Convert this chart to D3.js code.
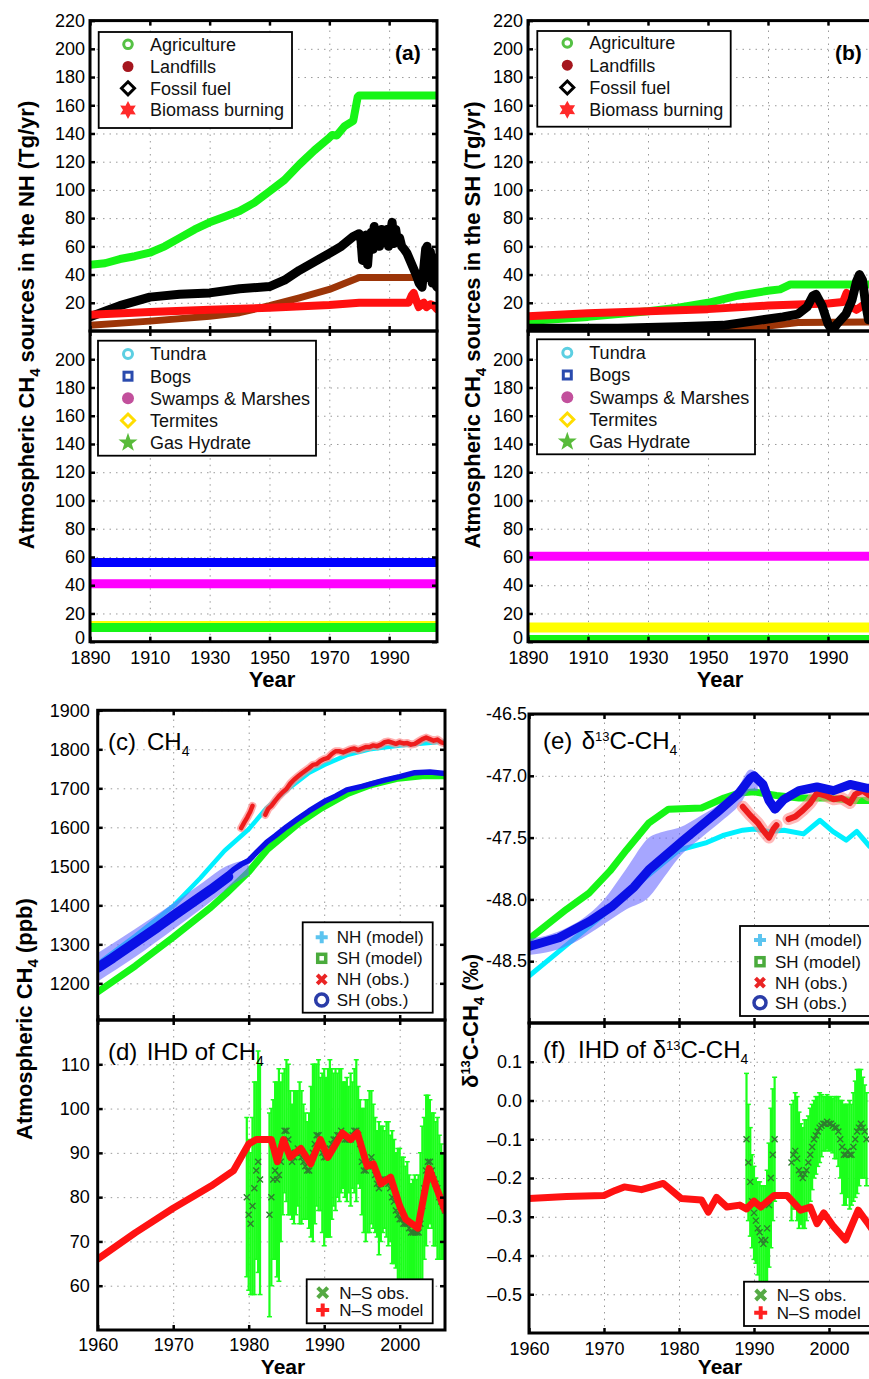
<!DOCTYPE html>
<html>
<head>
<meta charset="utf-8">
<script src="https://cdnjs.cloudflare.com/ajax/libs/d3/7.8.5/d3.min.js"></script>
<style>
  body { margin: 0; background: #fff; }
  svg { display: block; font-family: "Liberation Sans", Arial, Helvetica, sans-serif; }
  .grid line { stroke: #9a9a9a; stroke-width: 1; stroke-dasharray: 1.5, 5; }
  .axis line { stroke: #000; stroke-width: 2.5; }
  .axis text { fill: #000; }
  .series { fill: none; stroke-linejoin: round; stroke-linecap: round; }
</style>
</head>
<body>
<div id="chart"></div>
<script>
// ---------- data ----------
var srcYearTicks = [1890, 1910, 1930, 1950, 1970, 1990];
var srcTopTicks = [20, 40, 60, 80, 100, 120, 140, 160, 180, 200, 220];
var srcBottomTicks = [0, 20, 40, 60, 80, 100, 120, 140, 160, 180, 200];
var ihdYearTicks = [1960, 1970, 1980, 1990, 2000];
var ch4Ticks = [1200, 1300, 1400, 1500, 1600, 1700, 1800, 1900];
var ihdCh4Ticks = [60, 70, 80, 90, 100, 110];
var d13Ticks = [-48.5, -48, -47.5, -47, -46.5];
var ihdD13Ticks = [-0.5, -0.4, -0.3, -0.2, -0.1, 0, 0.1];

// (a) NH anthropogenic sources, Tg/yr
var nhAgriculture = [[1890,47],[1895,48],[1900,51],[1905,53],[1910,55.5],[1915,60],[1920,66],[1925,72],[1930,77],[1935,81],[1940,85],[1945,91],[1950,99],[1955,107],[1960,118],[1965,128],[1970,137],[1971,139],[1972.5,138.5],[1975,145],[1978,149],[1979.5,166],[1980,167],[2006,167]];
var nhLandfills = [[1890,4],[1910,7],[1930,10.5],[1940,13],[1950,18],[1960,23.5],[1970,29.5],[1980,38],[2006,38]];
var nhFossil = [[1890,10],[1895,14],[1900,18],[1905,21],[1910,24],[1920,26],[1930,27],[1940,30],[1950,31.5],[1955,36],[1960,43],[1965,49],[1970,55],[1974,60],[1978,67],[1980,69],[1980.6,64],[1981.1,50],[1981.6,66],[1982.2,68],[1982.8,47],[1983.4,64],[1984,70],[1984.6,58],[1985,74],[1985.6,63],[1986.2,70],[1986.8,60],[1987.4,72],[1988,64],[1988.6,70],[1989.3,72],[1989.8,60],[1990.5,70],[1991,77],[1991.6,62],[1992.2,72],[1992.8,63],[1993.5,66],[1994.2,60],[1995,58],[1996,55],[1997,50],[1998,45],[1999,40],[2000,34],[2001,31],[2001.6,45],[2002.2,58],[2002.7,60],[2003.2,38],[2003.8,56],[2004.4,34],[2005,52],[2005.5,33],[2006,31]];
var nhBiomass = [[1890,11.5],[1910,13.5],[1930,15],[1950,16.5],[1970,18.5],[1980,20],[1996.5,20],[1997.5,25],[1998.2,27],[1999,22],[1999.9,17],[2000.8,19],[2001.6,20],[2002.5,17],[2003.8,19],[2005,18],[2006,15.5]];
// (a) NH natural sources
var nhTundra = [[1890,10],[2006,10]];
var nhBogs = [[1890,56],[2006,56]];
var nhSwamps = [[1890,41],[2006,41]];
var nhTermites = [[1890,11.5],[2006,11.5]];
var nhHydrate = [[1890,10],[2006,10]];

// (b) SH anthropogenic sources
var shAgriculture = [[1890,7],[1910,10],[1930,14],[1940,16.5],[1950,20],[1960,25],[1970,28.5],[1974,29.5],[1977.5,33],[2006,33]];
var shLandfills = [[1890,0.5],[1950,1],[1960,2],[1970,3.5],[1980,6],[2006,6.5]];
var shFossil = [[1890,2],[1920,2],[1940,3],[1955,4],[1965,7],[1975,10],[1980,12],[1983,17],[1985,25],[1986,26],[1988,18],[1990,5],[1991.5,0],[1993,5],[1996,12],[1998,22],[1999.5,35],[2000.5,40],[2001.5,36],[2002.5,20],[2003.5,8],[2004.5,20],[2006,15]];
var shBiomass = [[1890,10.5],[1910,12.5],[1930,14],[1950,15.5],[1970,18],[1990,19.5],[1995,20.5],[1996.2,27],[1997,24],[1997.9,17],[1999.5,15],[2001.8,18.5],[2003,20],[2006,19]];
// (b) SH natural sources
var shTundra = [[1890,0],[2006,0]];
var shBogs = [[1890,0],[2006,0]];
var shSwamps = [[1890,60.5],[2006,60.5]];
var shTermites = [[1890,10],[2006,10]];
var shHydrate = [[1890,1.5],[2006,1.5]];

// (c) CH4 mixing ratio, ppb
var nhModelCh4 = [[1960,1250],[1965,1322],[1970,1398],[1973.6,1470],[1976.8,1540],[1980,1595],[1982.4,1650],[1985,1695],[1988,1740],[1990,1760],[1993,1785],[1996,1800],[2000,1810],[2003,1815],[2006,1820]];
var shModelCh4 = [[1960,1178],[1965,1245],[1970,1318],[1975,1395],[1977,1430],[1980,1486],[1982.4,1542],[1986.6,1610],[1989.6,1649],[1993.1,1687],[1996,1708],[1999.8,1726],[2003,1732],[2006,1732]];
var nhObsCh4 = [[1979,1598],[1979.4,1612],[1979.8,1625],[1980.2,1640],[1980.5,1655],[1981.3,null],[1982.2,1632],[1982.6,1648],[1983,1655],[1983.5,1668],[1984,1680],[1984.5,1690],[1985,1698],[1985.5,1712],[1986,1722],[1986.5,1730],[1987,1738],[1987.5,1745],[1988,1752],[1988.5,1760],[1989,1762],[1989.5,1770],[1990,1775],[1990.5,1778],[1991,1788],[1991.5,1795],[1992,1795],[1992.5,1792],[1993,1796],[1993.5,1800],[1994,1802],[1994.5,1798],[1995,1802],[1995.5,1806],[1996,1806],[1996.5,1810],[1997,1808],[1997.5,1812],[1998,1818],[1998.5,1820],[1999,1817],[1999.5,1814],[2000,1818],[2000.5,1815],[2001,1816],[2001.5,1812],[2002,1814],[2002.5,1820],[2003,1826],[2003.5,1830],[2004,1826],[2004.5,1822],[2005,1825],[2005.5,1818],[2006,1815]];
var shObsCh4Ice = [[1960,1240],[1962,1265],[1965,1305],[1968,1345],[1970,1373],[1972,1400],[1975,1440],[1977.3,1473]];
var shObsCh4 = [[1977.3,1480],[1978,1492],[1979,1505],[1980,1515],[1981,1535],[1982.4,1562],[1983.5,1578],[1985,1601],[1986.5,1622],[1988,1642],[1990,1666],[1991.5,1680],[1993,1696],[1995,1705],[1998,1721],[2000,1730],[2002,1740],[2004,1742],[2006,1738]];
// [year, low, high]
var shObsCh4Band = [[1960,1205,1278],[1965,1268,1340],[1970,1338,1405],[1974,1395,1460],[1977,1440,1500],[1978,1455,1508],[1980,1478,1518]];

// (d) interhemispheric difference of CH4, ppb
var ihdCh4Model = [[1960,66],[1965,72],[1970,77.5],[1975,82.5],[1978,86],[1979,89],[1980,92],[1981,93],[1983,93],[1983.8,88],[1984.6,93],[1985.5,89],[1986.9,91],[1988.2,87.5],[1989.5,93],[1990.5,89],[1992.4,94.5],[1993.5,93],[1994.4,94.5],[1995.7,87],[1996.5,87.5],[1997.5,83],[1998.8,84.5],[2000,78],[2000.8,75],[2002.4,73],[2003.9,86.5],[2006,77]];
// [year, mean, error]
var ihdCh4Obs = [[1979.75,80,18],[1980,76,17],[1980.25,74,16],[1980.5,78,20],[1980.75,82,24],[1981,86,20],[1981.25,88,25],[1981.5,84,26],
  [1982.75,76,23],[1983,80,20],[1983.25,84,18],[1983.5,86,20],[1983.75,84,22],[1984,85,24],[1984.25,88,18],[1984.5,92,16],[1984.75,95,14],
  [1985,95,16],[1985.25,93,17],[1985.5,90,14],[1985.75,88,13],[1986,89,15],[1986.25,90,14],[1986.5,91,13],[1986.75,90,16],
  [1987,89,15],[1987.25,88,13],[1987.5,87,12],[1987.75,86,11],[1988,86,13],[1988.25,88,17],[1988.5,90,20],[1988.75,92,18],
  [1989,94,16],[1989.25,94,17],[1989.5,92,15],[1989.75,90,18],[1990,89,20],[1990.25,89,18],[1990.5,90,19],[1990.75,91,20],
  [1991,92,17],[1991.25,93,15],[1991.5,93,16],[1991.75,94,14],[1992,94,15],[1992.25,95,14],[1992.5,94,12],[1992.75,93,13],
  [1993,93,14],[1993.25,93,12],[1993.5,93,15],[1993.75,94,12],[1994,95,14],[1994.25,95,16],[1994.5,94,11],[1994.75,92,10],
  [1995,88,12],[1995.25,86,14],[1995.5,86,16],[1995.75,87,15],[1996,88,16],[1996.25,89,15],[1996.5,87,14],[1996.75,85,13],
  [1997,83,12],[1997.25,82,15],[1997.5,83,13],[1997.75,84,12],[1998,84,11],[1998.25,84,13],[1998.5,83,14],[1998.75,82,12],
  [1999,80,15],[1999.25,79,14],[1999.5,77,13],[1999.75,76,15],[2000,75,16],[2000.25,75,14],[2000.5,74,15],[2000.75,74,13],
  [2001,74,14],[2001.25,73,12],[2001.5,72,11],[2001.75,72,12],[2002,72,13],[2002.25,72,12],[2002.5,72,13],[2002.75,74,16],
  [2003,78,18],[2003.25,82,16],[2003.5,86,17],[2003.75,88,15],[2004,88,14],[2004.25,86,13],[2004.5,84,15],[2004.75,83,14],
  [2005,82,16],[2005.25,80,14],[2005.5,79,13],[2005.75,78,12],[2006,77,11]];

// (e) d13C of CH4, permil
var nhModelD13 = [[1960,-48.62],[1965,-48.37],[1970,-48.12],[1975,-47.85],[1980,-47.6],[1983.7,-47.54],[1986,-47.48],[1988.5,-47.44],[1990,-47.43],[1992,-47.45],[1994,-47.44],[1996.6,-47.47],[1998.8,-47.36],[2000.5,-47.45],[2002.3,-47.52],[2003.7,-47.45],[2005.4,-47.57],[2006,-47.6]];
var shModelD13 = [[1960,-48.32],[1965,-48.08],[1968,-47.95],[1970.8,-47.77],[1973,-47.6],[1976,-47.38],[1978.6,-47.27],[1983,-47.26],[1986,-47.18],[1988,-47.14],[1990,-47.13],[1993,-47.16],[1996,-47.18],[2000,-47.18],[2003,-47.2],[2006,-47.2]];
var nhObsD13 = [[1988.5,-47.25],[1989.5,-47.32],[1990.5,-47.38],[1991.2,-47.44],[1992,-47.5],[1992.6,-47.43],[1993,-47.4],[1993.8,null],[1994.6,-47.35],[1995.5,-47.33],[1996.5,-47.28],[1997.5,-47.22],[1998.4,-47.14],[1999.5,-47.16],[2000.6,-47.19],[2001.7,-47.18],[2002.8,-47.22],[2003.5,-47.15],[2004.5,-47.12],[2005.4,-47.16],[2006,-47.15]];
var shObsD13 = [[1960,-48.38],[1964,-48.31],[1968,-48.18],[1971,-48.06],[1974,-47.9],[1976,-47.76],[1980.6,-47.52],[1985,-47.3],[1988,-47.14],[1989.5,-47.02],[1990,-47.0],[1991.2,-47.07],[1992,-47.2],[1992.8,-47.27],[1994,-47.19],[1996,-47.12],[1998.4,-47.09],[2000.6,-47.12],[2002.8,-47.07],[2005,-47.1],[2006,-47.1]];
var shObsD13Band = [[1960,-48.45,-48.32],[1963,-48.42,-48.28],[1966,-48.35,-48.2],[1970,-48.2,-48.0],[1973,-48.08,-47.75],[1976,-47.98,-47.5],[1978,-47.82,-47.45],[1980,-47.66,-47.42],[1983,-47.5,-47.32],[1986,-47.35,-47.2],[1988,-47.24,-47.08],[1989.5,-47.12,-46.95],[1990.5,-47.12,-46.98]];

// (f) interhemispheric difference of d13C
var ihdD13Model = [[1960,-0.253],[1965,-0.248],[1970,-0.245],[1971.5,-0.232],[1972.7,-0.223],[1975,-0.23],[1977.9,-0.214],[1980.3,-0.253],[1983,-0.257],[1983.9,-0.288],[1985,-0.25],[1986.4,-0.275],[1988.1,-0.27],[1989,-0.28],[1990,-0.26],[1990.9,-0.275],[1992.7,-0.245],[1994.4,-0.245],[1996.2,-0.283],[1997.5,-0.275],[1998.4,-0.318],[1999.3,-0.29],[2000.6,-0.325],[2002.2,-0.36],[2003.9,-0.283],[2005.3,-0.32],[2006,-0.34]];
var ihdD13Obs = [[1989,-0.10,0.17],[1989.25,-0.16,0.15],[1989.5,-0.21,0.14],[1989.75,-0.26,0.12],[1990,-0.29,0.12],[1990.25,-0.31,0.11],[1990.5,-0.33,0.12],[1990.75,-0.34,0.13],
  [1991,-0.36,0.14],[1991.25,-0.37,0.15],[1991.5,-0.36,0.14],[1991.75,-0.33,0.15],[1992,-0.27,0.16],[1992.25,-0.20,0.18],[1992.5,-0.14,0.17],[1992.75,-0.10,0.16],
  [1995,-0.16,0.15],[1995.25,-0.14,0.14],[1995.5,-0.13,0.15],[1995.75,-0.15,0.16],[1996,-0.18,0.15],[1996.25,-0.19,0.13],[1996.5,-0.20,0.13],[1996.75,-0.19,0.14],
  [1997,-0.18,0.13],[1997.25,-0.16,0.12],[1997.5,-0.14,0.12],[1997.75,-0.12,0.11],[1998,-0.10,0.10],[1998.25,-0.09,0.10],[1998.5,-0.08,0.09],[1998.75,-0.07,0.09],
  [1999,-0.065,0.08],[1999.25,-0.06,0.07],[1999.5,-0.06,0.07],[1999.75,-0.055,0.07],[2000,-0.06,0.07],[2000.25,-0.06,0.07],[2000.5,-0.065,0.07],[2000.75,-0.07,0.08],
  [2001,-0.07,0.08],[2001.25,-0.08,0.09],[2001.5,-0.10,0.10],[2001.75,-0.12,0.12],[2002,-0.14,0.13],[2002.25,-0.14,0.13],[2002.5,-0.13,0.12],[2002.75,-0.14,0.14],
  [2003,-0.14,0.13],[2003.25,-0.12,0.14],[2003.5,-0.10,0.15],[2003.75,-0.08,0.16],[2004,-0.07,0.15],[2004.25,-0.06,0.14],[2004.5,-0.07,0.13],[2004.75,-0.08,0.12],[2005,-0.10,0.12]];

// ---------- drawing ----------
var svg = d3.select('#chart')
  .append('svg')
  .attr('width', 869)
  .attr('height', 1379);

var clipCount = 0;

// scales, dotted grid and clipped plot area for one axes box
function makePanel(cfg) {
  var x = d3.scaleLinear().domain(cfg.xDomain).range([cfg.left, cfg.right]);
  var y = d3.scaleLinear().domain(cfg.yDomain).range([cfg.bottom, cfg.top]);
  var w = cfg.right - cfg.left, h = cfg.bottom - cfg.top;
  var g = svg.append('g');

  g.append('g').attr('class', 'grid')
    .attr('transform', 'translate(0,' + cfg.bottom + ')')
    .call(d3.axisBottom(x).tickValues(cfg.xTicks).tickSize(-h).tickFormat(''));
  g.append('g').attr('class', 'grid')
    .attr('transform', 'translate(' + cfg.left + ',0)')
    .call(d3.axisLeft(y).tickValues(cfg.yTicks).tickSize(-w).tickFormat(''));
  g.selectAll('.grid .domain').remove();

  var id = 'clip' + (clipCount++);
  svg.append('clipPath').attr('id', id)
    .append('rect')
    .attr('x', cfg.left).attr('y', cfg.top)
    .attr('width', w).attr('height', h);

  var plot = g.append('g').attr('clip-path', 'url(#' + id + ')');
  return { cfg: cfg, x: x, y: y, plot: plot };
}

// thick box with inward ticks on all four sides
function addAxes(p) {
  var c = p.cfg;
  var front = svg.append('g');
  front.append('rect')
    .attr('x', c.left).attr('y', c.top)
    .attr('width', c.right - c.left).attr('height', c.bottom - c.top)
    .attr('fill', 'none').attr('stroke', '#000').attr('stroke-width', 3);

  var left = front.append('g').attr('class', 'axis')
    .attr('transform', 'translate(' + c.left + ',0)')
    .call(d3.axisLeft(p.y).tickValues(c.yTicks).tickSizeInner(-5).tickSizeOuter(0)
      .tickPadding(c.yPad).tickFormat(c.yFormat));
  front.append('g').attr('class', 'axis')
    .attr('transform', 'translate(' + c.right + ',0)')
    .call(d3.axisRight(p.y).tickValues(c.yTicks).tickSizeInner(-5).tickSizeOuter(0).tickFormat(''));
  front.append('g').attr('class', 'axis')
    .attr('transform', 'translate(0,' + c.bottom + ')')
    .call(d3.axisBottom(p.x).tickValues(c.xTicks).tickSizeInner(-5).tickSizeOuter(0)
      .tickPadding(c.xPad || 8).tickFormat(c.xLabels ? d3.format('d') : ''));
  front.append('g').attr('class', 'axis')
    .attr('transform', 'translate(0,' + c.top + ')')
    .call(d3.axisTop(p.x).tickValues(c.xTicks).tickSizeInner(-5).tickSizeOuter(0).tickFormat(''));

  front.selectAll('.axis').attr('font-size', 18).attr('font-family', null);
  front.selectAll('.axis .domain').remove();

  // lift the label sitting on the bottom corner so it clears the year labels
  if (c.liftBottom) {
    left.selectAll('.tick text')
      .filter(function(d) { return d === c.yDomain[0]; })
      .attr('dy', '0.1em');
  }
}

function drawLine(p, data, color, width, opacity) {
  var line = d3.line()
    .defined(function(d) { return d[1] !== null; })
    .x(function(d) { return p.x(d[0]); })
    .y(function(d) { return p.y(d[1]); });
  p.plot.append('path')
    .datum(data)
    .attr('class', 'series')
    .attr('d', line)
    .attr('stroke', color)
    .attr('stroke-width', width)
    .attr('stroke-opacity', opacity || 1);
}

function drawBand(p, data, color, opacity) {
  var area = d3.area()
    .x(function(d) { return p.x(d[0]); })
    .y0(function(d) { return p.y(d[1]); })
    .y1(function(d) { return p.y(d[2]); })
    .curve(d3.curveMonotoneX);
  p.plot.append('path')
    .datum(data)
    .attr('d', area)
    .attr('fill', color)
    .attr('fill-opacity', opacity);
}

// green error bars with dark x at the mean
function drawErrorBars(p, data) {
  var bars = p.plot.append('g');
  data.forEach(function(d) {
    var cx = p.x(d[0]);
    bars.append('line')
      .attr('x1', cx).attr('x2', cx)
      .attr('y1', p.y(d[1] - d[2])).attr('y2', p.y(d[1] + d[2]))
      .attr('stroke', '#1bff1b').attr('stroke-width', 2.2);
    [d[1] - d[2], d[1] + d[2]].forEach(function(v) {
      bars.append('line')
        .attr('x1', cx - 2.5).attr('x2', cx + 2.5)
        .attr('y1', p.y(v)).attr('y2', p.y(v))
        .attr('stroke', '#1bff1b').attr('stroke-width', 1.5);
    });
  });
  data.forEach(function(d) {
    markerX(bars, p.x(d[0]), p.y(d[1]), '#2f7d2f', 3, 1.4);
  });
}

// ---------- legend markers ----------
function markerRing(g, cx, cy, color, r, sw) {
  g.append('circle').attr('cx', cx).attr('cy', cy).attr('r', r)
    .attr('fill', '#fff').attr('stroke', color).attr('stroke-width', sw);
}
function markerDot(g, cx, cy, color, r) {
  g.append('circle').attr('cx', cx).attr('cy', cy).attr('r', r).attr('fill', color);
}
function markerDiamond(g, cx, cy, color, r, sw) {
  g.append('path')
    .attr('d', 'M' + cx + ',' + (cy - r) + 'L' + (cx + r) + ',' + cy + 'L' + cx + ',' + (cy + r) + 'L' + (cx - r) + ',' + cy + 'Z')
    .attr('fill', '#fff').attr('stroke', color).attr('stroke-width', sw);
}
function markerSquare(g, cx, cy, color, s, sw) {
  g.append('rect').attr('x', cx - s / 2).attr('y', cy - s / 2).attr('width', s).attr('height', s)
    .attr('fill', '#fff').attr('stroke', color).attr('stroke-width', sw);
}
function markerStar(g, cx, cy, color, n, rOut, rIn) {
  var pts = [];
  for (var i = 0; i < n * 2; i++) {
    var a = -Math.PI / 2 + i * Math.PI / n;
    var r = i % 2 === 0 ? rOut : rIn;
    pts.push([cx + r * Math.cos(a), cy + r * Math.sin(a)]);
  }
  g.append('path').attr('d', 'M' + pts.join('L') + 'Z').attr('fill', color);
}
function markerPlus(g, cx, cy, color, r, sw) {
  g.append('path')
    .attr('d', 'M' + (cx - r) + ',' + cy + 'H' + (cx + r) + 'M' + cx + ',' + (cy - r) + 'V' + (cy + r))
    .attr('stroke', color).attr('stroke-width', sw).attr('fill', 'none');
}
function markerX(g, cx, cy, color, r, sw) {
  g.append('path')
    .attr('d', 'M' + (cx - r) + ',' + (cy - r) + 'L' + (cx + r) + ',' + (cy + r) + 'M' + (cx - r) + ',' + (cy + r) + 'L' + (cx + r) + ',' + (cy - r))
    .attr('stroke', color).attr('stroke-width', sw).attr('fill', 'none');
}

// legend box: rows of [label, y, drawMarker]
function legend(box, rows, mx, tx, size) {
  var g = svg.append('g');
  g.append('rect')
    .attr('x', box[0]).attr('y', box[1]).attr('width', box[2]).attr('height', box[3])
    .attr('fill', '#fff').attr('stroke', '#000').attr('stroke-width', 1.8);
  rows.forEach(function(r) {
    r[2](g, mx, r[1]);
    g.append('text')
      .attr('x', tx).attr('y', r[1])
      .attr('dy', '0.36em')
      .attr('font-size', size)
      .attr('fill', '#111')
      .text(r[0]);
  });
}

function sourceLegendTop(box, mx, tx, ys) {
  legend(box, [
    ['Agriculture', ys[0], function(g, x, y) { markerRing(g, x, y, '#55c144', 4.3, 3); }],
    ['Landfills', ys[1], function(g, x, y) { markerDot(g, x, y, '#a5161e', 5.5); }],
    ['Fossil fuel', ys[2], function(g, x, y) { markerDiamond(g, x, y, '#000', 6.5, 3); }],
    ['Biomass burning', ys[3], function(g, x, y) { markerStar(g, x, y, '#ff2a2a', 6, 9, 5); }]
  ], mx, tx, 18);
}
function sourceLegendBottom(box, mx, tx, ys) {
  legend(box, [
    ['Tundra', ys[0], function(g, x, y) { markerRing(g, x, y, '#5ccfe2', 4.5, 3); }],
    ['Bogs', ys[1], function(g, x, y) { markerSquare(g, x, y, '#2a4bae', 8, 3); }],
    ['Swamps & Marshes', ys[2], function(g, x, y) { markerDot(g, x, y, '#c2509c', 6); }],
    ['Termites', ys[3], function(g, x, y) { markerDiamond(g, x, y, '#ffdd00', 6.5, 3); }],
    ['Gas Hydrate', ys[4], function(g, x, y) { markerStar(g, x, y, '#58bb3a', 5, 10, 4); }]
  ], mx, tx, 18);
}
function obsLegend(box, mx, tx, ys) {
  legend(box, [
    ['NH (model)', ys[0], function(g, x, y) { markerPlus(g, x, y, '#5cc4ef', 6, 4); }],
    ['SH (model)', ys[1], function(g, x, y) { markerSquare(g, x, y, '#4aab3c', 8, 3.5); }],
    ['NH (obs.)', ys[2], function(g, x, y) { markerX(g, x, y, '#ea2424', 4.5, 4); }],
    ['SH (obs.)', ys[3], function(g, x, y) { markerRing(g, x, y, '#2a3ca8', 6, 3.5); }]
  ], mx, tx, 17);
}
function ihdLegend(box, mx, tx, ys) {
  legend(box, [
    ['N\u2013S obs.', ys[0], function(g, x, y) { markerX(g, x, y, '#55aa44', 5, 4); }],
    ['N\u2013S model', ys[1], function(g, x, y) { markerPlus(g, x, y, '#ff2020', 6.5, 4); }]
  ], mx, tx, 17);
}

// text with sub/superscripts: parts = [[text, shift, size, x]]
function richText(g, x, y, parts, size, weight, anchor, rotate) {
  var t = g.append('text')
    .attr('font-size', size)
    .attr('font-weight', weight)
    .attr('text-anchor', anchor)
    .attr('fill', '#000');
  if (rotate) t.attr('transform', 'translate(' + x + ',' + y + ') rotate(-90)');
  else t.attr('x', x).attr('y', y);
  var prev = 0;
  parts.forEach(function(pt) {
    var s = pt[1] || 0;
    var ts = t.append('tspan').attr('dy', s - prev).text(pt[0]);
    if (pt[2]) ts.attr('font-size', pt[2]);
    if (pt.length > 3) ts.attr('x', pt[3]);
    prev = s;
  });
  return t;
}

var fmtD = d3.format('d');

// ----- (a) NH sources -----
var aTop = makePanel({ left: 90, right: 437, top: 20.6, bottom: 331, xDomain: [1890, 2006], yDomain: [0, 220],
  xTicks: srcYearTicks, yTicks: srcTopTicks, yFormat: fmtD, yPad: 5, xLabels: false });
drawLine(aTop, nhAgriculture, '#16f516', 8);
drawLine(aTop, nhLandfills, '#9c3508', 7);
drawLine(aTop, nhFossil, '#000', 9);
drawLine(aTop, nhBiomass, '#ff1010', 8);
sourceLegendTop([98.7, 32, 193.3, 96], 128, 150, [44.3, 66.5, 88.3, 110]);
addAxes(aTop);
svg.append('text').attr('x', 395).attr('y', 60).attr('font-size', 21).attr('font-weight', 'bold').text('(a)');

var aBot = makePanel({ left: 90, right: 437, top: 331, bottom: 641.7, xDomain: [1890, 2006], yDomain: [0, 220],
  xTicks: srcYearTicks, yTicks: srcBottomTicks, yFormat: fmtD, yPad: 5, xLabels: true, xPad: 9.5, liftBottom: true });
drawLine(aBot, nhTundra, '#00ffff', 9);
drawLine(aBot, nhBogs, '#0000ff', 9);
drawLine(aBot, nhSwamps, '#ff00ff', 9);
drawLine(aBot, nhTermites, '#ffff00', 9);
drawLine(aBot, nhHydrate, '#16f516', 9);
sourceLegendBottom([98, 340.7, 218, 115], 128, 150, [354, 376.2, 398.3, 420.5, 442.7]);
addAxes(aBot);

// ----- (b) SH sources -----
var bTop = makePanel({ left: 528, right: 876, top: 20.6, bottom: 331, xDomain: [1890, 2006], yDomain: [0, 220],
  xTicks: srcYearTicks, yTicks: srcTopTicks, yFormat: fmtD, yPad: 5, xLabels: false });
drawLine(bTop, shAgriculture, '#16f516', 8);
drawLine(bTop, shLandfills, '#9c3508', 7);
drawLine(bTop, shBiomass, '#ff1010', 8);
drawLine(bTop, shFossil, '#000', 9);
sourceLegendTop([537.3, 31, 193.4, 95.7], 567.3, 589.3, [43, 65.2, 87.5, 109.7]);
addAxes(bTop);
svg.append('text').attr('x', 835).attr('y', 60).attr('font-size', 21).attr('font-weight', 'bold').text('(b)');

var bBot = makePanel({ left: 528, right: 876, top: 331, bottom: 641.7, xDomain: [1890, 2006], yDomain: [0, 220],
  xTicks: srcYearTicks, yTicks: srcBottomTicks, yFormat: fmtD, yPad: 5, xLabels: true, xPad: 9.5, liftBottom: true });
drawLine(bBot, shTundra, '#00ffff', 9);
drawLine(bBot, shBogs, '#0000ff', 9);
drawLine(bBot, shSwamps, '#ff00ff', 9);
drawLine(bBot, shTermites, '#ffff00', 10);
drawLine(bBot, shHydrate, '#16f516', 9);
sourceLegendBottom([537, 339.3, 218, 115], 567.3, 589.3, [352.7, 375, 397.3, 419.5, 441.7]);
addAxes(bBot);

// ----- (c) CH4 -----
var cP = makePanel({ left: 97.7, right: 445, top: 710.3, bottom: 1020, xDomain: [1960, 2006], yDomain: [1106, 1900],
  xTicks: ihdYearTicks, yTicks: ch4Ticks, yFormat: fmtD, yPad: 8, xLabels: false });
drawLine(cP, shModelCh4, '#16f516', 7);
drawLine(cP, nhModelCh4, '#00f0ff', 4.5);
drawBand(cP, shObsCh4Band, '#6a6aff', 0.6);
drawLine(cP, nhObsCh4, '#ff8a8a', 8, 0.7);
drawLine(cP, nhObsCh4, '#ee1c1c', 4.5);
drawLine(cP, shObsCh4Ice, '#0a10e6', 10);
drawLine(cP, shObsCh4, '#0a10e6', 5.5);
obsLegend([302.7, 922.3, 130, 90.4], 321.7, 336.7, [937.3, 958.3, 979.3, 1000]);
addAxes(cP);
richText(svg, 108, 750, [['(c)'], ['CH', 0, null, 147], ['4', 6, 14], ['', 0]], 24, 'normal', 'start');

// ----- (d) IHD of CH4 -----
var dP = makePanel({ left: 97.7, right: 445, top: 1020, bottom: 1330, xDomain: [1960, 2006], yDomain: [50, 120],
  xTicks: ihdYearTicks, yTicks: ihdCh4Ticks, yFormat: fmtD, yPad: 8, xLabels: true, xPad: 8 });
drawErrorBars(dP, ihdCh4Obs);
drawLine(dP, ihdCh4Model, '#ff1212', 7);
ihdLegend([306.7, 1279.3, 126, 44], 322.7, 339.3, [1292.7, 1310]);
addAxes(dP);
richText(svg, 108, 1060, [['(d)'], ['IHD of CH', 0, null, 146.7], ['4', 6, 14], ['', 0]], 24, 'normal', 'start');

// ----- (e) d13C-CH4 -----
var eP = makePanel({ left: 529, right: 874, top: 714, bottom: 1023, xDomain: [1960, 2006], yDomain: [-49, -46.5],
  xTicks: ihdYearTicks, yTicks: d13Ticks, yFormat: function(d) { return d.toFixed(1); }, yPad: 2, xLabels: false });
drawLine(eP, shModelD13, '#16f516', 7);
drawLine(eP, nhModelD13, '#00f0ff', 5);
drawBand(eP, shObsD13Band, '#6a6aff', 0.6);
drawLine(eP, nhObsD13, '#ff8a8a', 12, 0.6);
drawLine(eP, nhObsD13, '#ee1c1c', 6);
drawLine(eP, shObsD13, '#0a10e6', 9);
obsLegend([740, 926, 150, 90], 760, 775, [940, 961.7, 982.7, 1002.7]);
addAxes(eP);
richText(svg, 543, 749, [['(e)'], ['\u03b4', 0, null, 581.7], ['13', -8, 13], ['C-CH', 0], ['4', 6, 14], ['', 0]], 24, 'normal', 'start');

// ----- (f) IHD of d13C-CH4 -----
var fP = makePanel({ left: 529, right: 874, top: 1023, bottom: 1333, xDomain: [1960, 2006], yDomain: [-0.6, 0.2],
  xTicks: ihdYearTicks, yTicks: ihdD13Ticks, yFormat: function(d) { return d.toFixed(1).replace('-', '\u2013'); },
  yPad: 7, xLabels: true, xPad: 9 });
drawErrorBars(fP, ihdD13Obs);
drawLine(fP, ihdD13Model, '#ff1212', 7);
ihdLegend([744, 1281.7, 150, 44.3], 760.7, 776.7, [1295, 1312.7]);
addAxes(fP);
richText(svg, 543, 1058, [['(f)'], ['IHD of \u03b4', 0, null, 578], ['13', -8, 13], ['C-CH', 0], ['4', 6, 14], ['', 0]], 24, 'normal', 'start');

// ----- axis titles -----
[[272, 687, 22], [720, 687, 22], [283, 1374, 21], [720, 1374, 21]].forEach(function(p) {
  svg.append('text').attr('x', p[0]).attr('y', p[1])
    .attr('text-anchor', 'middle').attr('font-size', p[2]).attr('font-weight', 'bold')
    .text('Year');
});
richText(svg, 34, 325, [['Atmospheric CH'], ['4', 6, 15], [' sources in the NH (Tg/yr)', 0]], 22, 'bold', 'middle', true);
richText(svg, 480, 325, [['Atmospheric CH'], ['4', 6, 15], [' sources in the SH (Tg/yr)', 0]], 22, 'bold', 'middle', true);
richText(svg, 32, 1019, [['Atmospheric CH'], ['4', 6, 15], [' (ppb)', 0]], 22, 'bold', 'middle', true);
richText(svg, 478, 1021, [['\u03b4'], ['13', -8, 13], ['C-CH', 0], ['4', 6, 15], [' (\u2030)', 0]], 22, 'bold', 'middle', true);
</script>
</body>
</html>
